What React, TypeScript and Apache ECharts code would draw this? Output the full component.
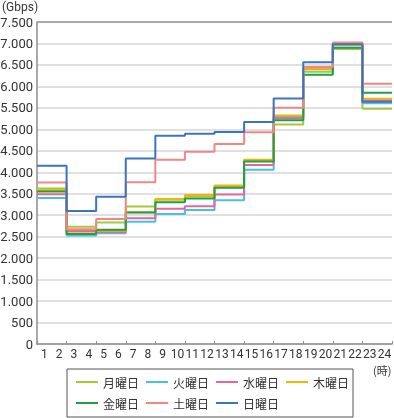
import React, { useEffect, useRef } from "react";
import * as echarts from "echarts";

// Hour labels on the x axis
const hourLabels = ["1","2","3","4","5","6","7","8","9","10","11","12","13","14","15","16","17","18","19","20","21","22","23","24"];
// Each value holds for a 2-hour block starting at these hours
const blockStartHours = [1, 3, 5, 7, 9, 11, 13, 15, 17, 19, 21, 23];
const blockEndHour = 25;

const dayNames = ["月曜日", "火曜日", "水曜日", "木曜日", "金曜日", "土曜日", "日曜日"];
const dayColors = ["#a6c83c", "#42c0ef", "#e8679b", "#f6b300", "#1f9e4c", "#f28686", "#3b74c1"];

const mon = [3620, 2730, 2830, 3200, 3360, 3440, 3660, 4260, 5110, 6340, 6870, 5480];
const tue = [3400, 2530, 2580, 2850, 3030, 3120, 3350, 4060, 5290, 6400, 6960, 5610];
const wed = [3490, 2630, 2610, 2930, 3150, 3210, 3480, 4170, 5260, 6420, 6980, 5680];
const thu = [3580, 2580, 2640, 3070, 3380, 3470, 3690, 4290, 5320, 6410, 6970, 5710];
const fri = [3550, 2560, 2660, 3060, 3300, 3390, 3640, 4250, 5210, 6270, 6900, 5850];
const sat = [3760, 2670, 2910, 3770, 4290, 4480, 4660, 4930, 5500, 6450, 7020, 6060];
const sun = [4150, 3100, 3430, 4320, 4850, 4900, 4940, 5170, 5720, 6560, 6980, 5640];

const seriesValues = [mon, tue, wed, thu, fri, sat, sun];

const yTicks = 500;
const yMax = 7500;

const fmt = (v: number) => {
  const s = String(Math.round(v));
  return s.replace(/\B(?=(\d{3})+(?!\d))/g, ".");
};

const FONT = "'Noto Sans CJK JP', 'Noto Sans', sans-serif";
const NUMFONT = "Roboto, 'Noto Sans', sans-serif";

export default function App() {
  const ref = useRef<HTMLDivElement>(null);
  useEffect(() => {
    if (!ref.current) return;
    const chart = echarts.init(ref.current, undefined, { renderer: "svg" });
    const splitCount = yMax / yTicks + 1;
    const splitColors = Array.from({ length: splitCount }, (_, i) =>
      i === splitCount - 1 ? "#8c8c8c" : "#d6d6d6"
    );
    const series = seriesValues.map((vals, i) => {
      const pts = blockStartHours.map((h, j) => [h - 1, vals[j]]);
      pts.push([blockEndHour - 1, vals[vals.length - 1]]);
      return {
        name: dayNames[i],
        type: "line",
        step: "end",
        xAxisIndex: 0,
        yAxisIndex: 0,
        symbol: "none",
        data: pts,
        lineStyle: { color: dayColors[i], width: 2 },
        itemStyle: { color: dayColors[i] },
        z: 2 + i,
      };
    });
    chart.setOption({
      animation: false,
      textStyle: { fontFamily: FONT },
      grid: { left: 37, right: 2, top: 22, bottom: 74, containLabel: false, outerBoundsMode: "none" },
      xAxis: [
        {
          type: "value",
          position: "bottom",
          min: 0,
          max: 24,
          interval: 2,
          axisLine: { show: true, lineStyle: { color: "#8c8c8c", width: 1.5 } },
          axisTick: { show: true, inside: true, length: 3, lineStyle: { color: "#8c8c8c", width: 1 } },
          axisLabel: { show: false },
          splitLine: { show: false },
        },
        {
          type: "category",
          position: "bottom",
          data: hourLabels,
          boundaryGap: true,
          axisLine: { show: false },
          axisTick: { show: false },
          splitLine: { show: false },
          axisLabel: { interval: 0, fontSize: 12, lineHeight: 12, color: "#333", margin: 4, fontFamily: NUMFONT },
        },
      ],
      yAxis: {
        type: "value",
        min: 0,
        max: yMax,
        interval: yTicks,
        axisLine: { show: true, lineStyle: { color: "#8c8c8c", width: 1.5 } },
        axisTick: { show: false },
        axisLabel: { formatter: fmt, fontSize: 13, lineHeight: 13, color: "#333", margin: 4, fontFamily: NUMFONT },
        splitLine: { show: true, lineStyle: { color: splitColors, width: 1.5 } },
      },
      legend: {
        data: dayNames,
        left: 76,
        top: 375,
        width: 280,
        padding: 0,
        itemGap: 7,
        itemWidth: 22,
        itemHeight: 2,
        icon: "rect",
        selectedMode: false,
        textStyle: { fontSize: 12, color: "#333", lineHeight: 14, fontFamily: FONT },
      },
      graphic: [
        {
          type: "rect",
          shape: { x: 67, y: 369, width: 286, height: 48 },
          style: { fill: "none", stroke: "#555", lineWidth: 1 },
        },
        {
          type: "text",
          x: 2,
          y: 7,
          style: { text: "(Gbps)", fontSize: 12, lineHeight: 12, fill: "#333", fontFamily: NUMFONT, verticalAlign: "middle" },
        },
        {
          type: "text",
          x: 373,
          y: 370,
          style: { text: "(時)", fontSize: 11, lineHeight: 11, fill: "#333", fontFamily: FONT, verticalAlign: "middle" },
        },
      ],
      series,
    });
    return () => chart.dispose();
  }, []);
  return <div ref={ref} style={{ position: "fixed", left: 0, top: 0, width: 394, height: 418 }} />;
}
